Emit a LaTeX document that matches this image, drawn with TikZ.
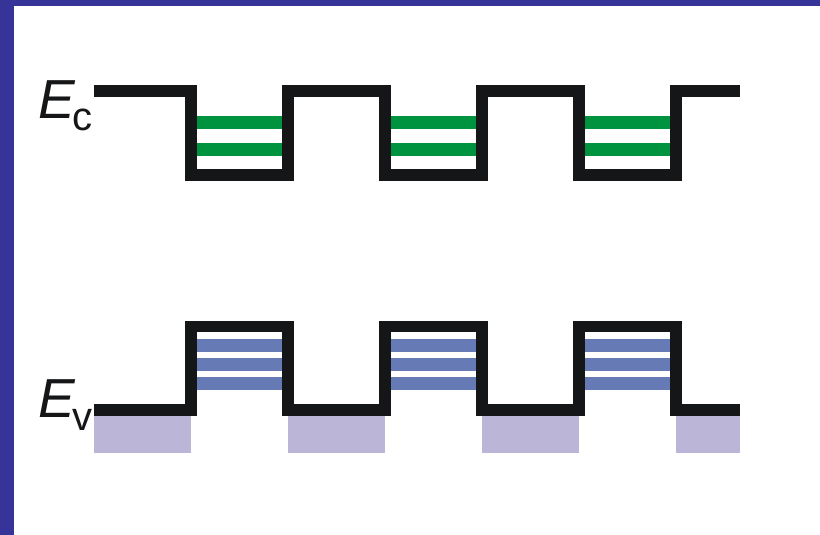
\documentclass[tikz,border=0pt]{standalone}
\usepackage{fontspec}
\setmainfont{Liberation Sans}
\definecolor{frameblue}{HTML}{363399}
\definecolor{bandblack}{HTML}{151618}
\definecolor{levgreen}{HTML}{00933F}
\definecolor{levblue}{HTML}{667BB5}
\definecolor{fillpurple}{HTML}{BBB5D8}
\tikzset{
  band/.style={draw=bandblack, line width=11.5pt, line join=miter, line cap=butt},
  greenlev/.style={fill=levgreen},
  bluelev/.style={fill=levblue},
  purplebox/.style={fill=fillpurple},
  frame/.style={fill=frameblue},
  lbl/.style={anchor=base west, inner sep=0pt, text=bandblack}
}
\newcommand{\bigE}{{\fontsize{55}{55}\selectfont\itshape E}}
\newcommand{\subsc}[1]{\kern-3pt\raisebox{-13pt}{\fontsize{40}{40}\selectfont #1}}
\begin{document}
\begin{tikzpicture}[x=1pt,y=-1pt]
\useasboundingbox (0,0) rectangle (820,535);
% frame
\fill[frame] (0,0) rectangle (13.5,535);
\fill[frame] (0,0) rectangle (820,6);
% purple fills below valence band
\foreach \a/\b in {94/191,288/385,482/579,676/740}{
  \fill[purplebox] (\a,416) rectangle (\b,453);
}
% green levels in conduction wells
\foreach \xx in {191,385,579}{
  \fill[greenlev] (\xx+5.75,116) rectangle (\xx+91.25,129);
  \fill[greenlev] (\xx+5.75,142.7) rectangle (\xx+91.25,155.7);
}
% blue levels in valence barriers
\foreach \xx in {191,385,579}{
  \fill[bluelev] (\xx+5.75,339) rectangle (\xx+91.25,351.7);
  \fill[bluelev] (\xx+5.75,358) rectangle (\xx+91.25,370.7);
  \fill[bluelev] (\xx+5.75,377) rectangle (\xx+91.25,389.7);
}
% conduction band edge
\draw[band] (94,91) -- (191,91) -- (191,175) -- (288,175) -- (288,91)
  -- (385,91) -- (385,175) -- (482,175) -- (482,91) -- (579,91)
  -- (579,175) -- (676,175) -- (676,91) -- (740,91);
% valence band edge
\draw[band] (94,410) -- (191,410) -- (191,326.5) -- (288,326.5) -- (288,410)
  -- (385,410) -- (385,326.5) -- (482,326.5) -- (482,410) -- (579,410)
  -- (579,326.5) -- (676,326.5) -- (676,410) -- (740,410);
% labels
\node[lbl] (ec) at (38.5,118) {\bigE\subsc{c}};
\node[lbl] (ev) at (38.5,417) {\bigE\subsc{v}};
\end{tikzpicture}
\end{document}
